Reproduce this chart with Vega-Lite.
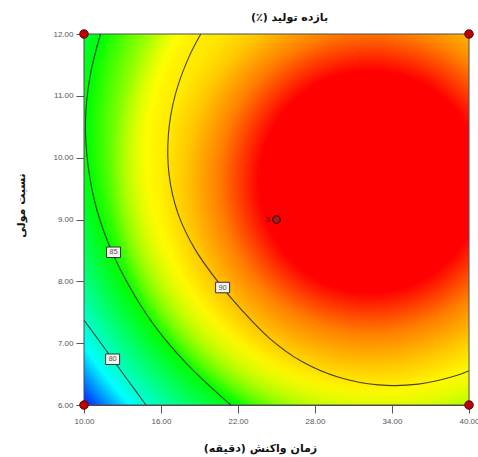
{
  "$schema": "https://vega.github.io/schema/vega-lite/v6.json",
  "width": 385,
  "height": 371,
  "autosize": {"type": "none"},
  "padding": {"left": 84, "top": 34, "right": 9, "bottom": 52},
  "background": "white",
  "title": {
    "text": "\u200fبازده تولید (٪)\u200f",
    "font": "DejaVu Sans",
    "fontSize": 11,
    "fontWeight": "bold",
    "color": "#111111",
    "offset": 5,
    "dx": 13
  },
  "config": {
    "view": {"stroke": null},
    "axis": {
      "grid": false,
      "tickSize": 8,
      "tickColor": "#555555",
      "domainColor": "#4d4d4d",
      "labelFont": "Liberation Sans",
      "labelFontSize": 8,
      "labelColor": "#555555",
      "labelFlush": false,
      "labelOverlap": false,
      "titleFont": "DejaVu Sans",
      "titleFontSize": 11,
      "titleFontWeight": "bold",
      "titleColor": "#111111",
      "titleBaseline": "middle"
    }
  },
  "datasets": {
    "region": [{"x": 10, "x2": 40, "y": 6, "y2": 12}],
    "contours": [
      {"level": 90, "i": 1, "x": 19.1, "y": 12},
      {"level": 90, "i": 2, "x": 18.17, "y": 11.626},
      {"level": 90, "i": 3, "x": 17.107, "y": 11.014},
      {"level": 90, "i": 4, "x": 16.577, "y": 10.372},
      {"level": 90, "i": 5, "x": 16.631, "y": 9.721},
      {"level": 90, "i": 6, "x": 17.333, "y": 9.091},
      {"level": 90, "i": 7, "x": 18.665, "y": 8.513},
      {"level": 90, "i": 8, "x": 20.418, "y": 7.999},
      {"level": 90, "i": 9, "x": 22.343, "y": 7.523},
      {"level": 90, "i": 10, "x": 24.478, "y": 7.074},
      {"level": 90, "i": 11, "x": 26.98, "y": 6.702},
      {"level": 90, "i": 12, "x": 29.847, "y": 6.448},
      {"level": 90, "i": 13, "x": 32.925, "y": 6.325},
      {"level": 90, "i": 14, "x": 36.058, "y": 6.338},
      {"level": 90, "i": 15, "x": 39.089, "y": 6.482},
      {"level": 90, "i": 16, "x": 40, "y": 6.555},
      {"level": 85, "i": 1, "x": 11.286, "y": 12},
      {"level": 85, "i": 2, "x": 10.483, "y": 11.331},
      {"level": 85, "i": 3, "x": 10.117, "y": 10.601},
      {"level": 85, "i": 4, "x": 10.319, "y": 9.87},
      {"level": 85, "i": 5, "x": 11.005, "y": 9.154},
      {"level": 85, "i": 6, "x": 12.197, "y": 8.47},
      {"level": 85, "i": 7, "x": 13.795, "y": 7.825},
      {"level": 85, "i": 8, "x": 15.72, "y": 7.22},
      {"level": 85, "i": 9, "x": 17.995, "y": 6.67},
      {"level": 85, "i": 10, "x": 20.543, "y": 6.163},
      {"level": 85, "i": 11, "x": 21.455, "y": 6},
      {"level": 80, "i": 1, "x": 10, "y": 7.37},
      {"level": 80, "i": 2, "x": 11.04, "y": 7.08},
      {"level": 80, "i": 3, "x": 12.23, "y": 6.74},
      {"level": 80, "i": 4, "x": 13.49, "y": 6.38},
      {"level": 80, "i": 5, "x": 14.83, "y": 6}
    ],
    "labels": [
      {"level": "85", "x": 12.3, "y": 8.47},
      {"level": "80", "x": 12.23, "y": 6.74},
      {"level": "90", "x": 20.8, "y": 7.9}
    ],
    "design": [
      {"x": 10, "y": 6},
      {"x": 10, "y": 12},
      {"x": 40, "y": 6},
      {"x": 40, "y": 12}
    ],
    "center": [{"x": 25, "y": 9, "n": "3"}]
  },
  "encoding": {
    "x": {
      "field": "x",
      "type": "quantitative",
      "scale": {"domain": [10, 40], "nice": false, "zero": false},
      "axis": {
        "title": "\u200fزمان واکنش (دقیقه)\u200f",
        "values": [10, 16, 22, 28, 34, 40],
        "format": ".2f",
        "labelPadding": 4,
        "titleX": 176,
        "titleY": 43
      }
    },
    "y": {
      "field": "y",
      "type": "quantitative",
      "scale": {"domain": [6, 12], "nice": false, "zero": false},
      "axis": {
        "title": "\u200fنسبت مولی\u200f",
        "values": [6, 7, 8, 9, 10, 11, 12],
        "format": ".2f",
        "labelPadding": 3,
        "titleX": -63,
        "titleY": 171
      }
    }
  },
  "layer": [
    {
      "data": {"name": "region"},
      "mark": {
        "type": "rect",
        "fill": {
          "gradient": "radial",
          "x1": 0.5782, "y1": 0.4717, "r1": 0,
          "x2": 0.9951, "y2": 0.1626, "r2": 1.2987,
          "stops": [
            {"offset": 0, "color": "#ff0000"},
            {"offset": 0.18, "color": "#ff0000"},
            {"offset": 0.29, "color": "#ff8000"},
            {"offset": 0.47, "color": "#ffff00"},
            {"offset": 0.646, "color": "#00ff00"},
            {"offset": 0.87, "color": "#00ffff"},
            {"offset": 1, "color": "#0000ff"}
          ]
        },
        "strokeWidth": 0
      },
      "encoding": {"x2": {"field": "x2"}, "y2": {"field": "y2"}}
    },
    {
      "data": {"name": "region"},
      "mark": {
        "type": "rect",
        "fill": {
          "gradient": "radial",
          "x1": 0.7436, "y1": 0.4018, "r1": 0,
          "x2": 0.7436, "y2": 0.4018, "r2": 0.6753,
          "stops": [
            {"offset": 0, "color": "rgba(255,0,0,1)"},
            {"offset": 0.427, "color": "rgba(255,0,0,1)"},
            {"offset": 0.585, "color": "rgba(255,128,0,1)"},
            {"offset": 0.712, "color": "rgba(255,200,0,1)"},
            {"offset": 0.808, "color": "rgba(255,245,0,0.7)"},
            {"offset": 1, "color": "rgba(255,255,0,0)"}
          ]
        },
        "strokeWidth": 0
      },
      "encoding": {"x2": {"field": "x2"}, "y2": {"field": "y2"}}
    },
    {
      "data": {"name": "contours"},
      "mark": {
        "type": "line",
        "interpolate": "catmull-rom",
        "stroke": "#262626",
        "strokeWidth": 1.1,
        "strokeOpacity": 0.85
      },
      "encoding": {
        "detail": {"field": "level", "type": "nominal"},
        "order": {"field": "i", "type": "quantitative"}
      }
    },
    {
      "data": {"name": "region"},
      "mark": {"type": "rect", "fill": null, "fillOpacity": 0, "stroke": "#4d4d4d", "strokeWidth": 1},
      "encoding": {"x2": {"field": "x2"}, "y2": {"field": "y2"}}
    },
    {
      "data": {"name": "labels"},
      "mark": {
        "type": "point",
        "shape": "M-1,-0.75L1,-0.75L1,0.75L-1,0.75Z",
        "size": 196,
        "filled": true,
        "fill": "#f4f4f4",
        "stroke": "#333333",
        "strokeWidth": 1,
        "opacity": 1
      }
    },
    {
      "data": {"name": "labels"},
      "mark": {"type": "text", "font": "Liberation Sans", "fontSize": 7.5, "color": "#555555"},
      "encoding": {"text": {"field": "level"}}
    },
    {
      "data": {"name": "design"},
      "mark": {"type": "circle", "size": 72, "fill": "#c00000", "stroke": "#5c0000", "strokeWidth": 1, "opacity": 1}
    },
    {
      "data": {"name": "center"},
      "mark": {"type": "circle", "size": 56, "fill": "#a81c1c", "stroke": "#3d0a0a", "strokeWidth": 1.2, "opacity": 1}
    },
    {
      "data": {"name": "center"},
      "mark": {"type": "text", "font": "Liberation Sans", "fontSize": 7.5, "color": "#222222", "dx": -9},
      "encoding": {"text": {"field": "n"}}
    }
  ]
}
